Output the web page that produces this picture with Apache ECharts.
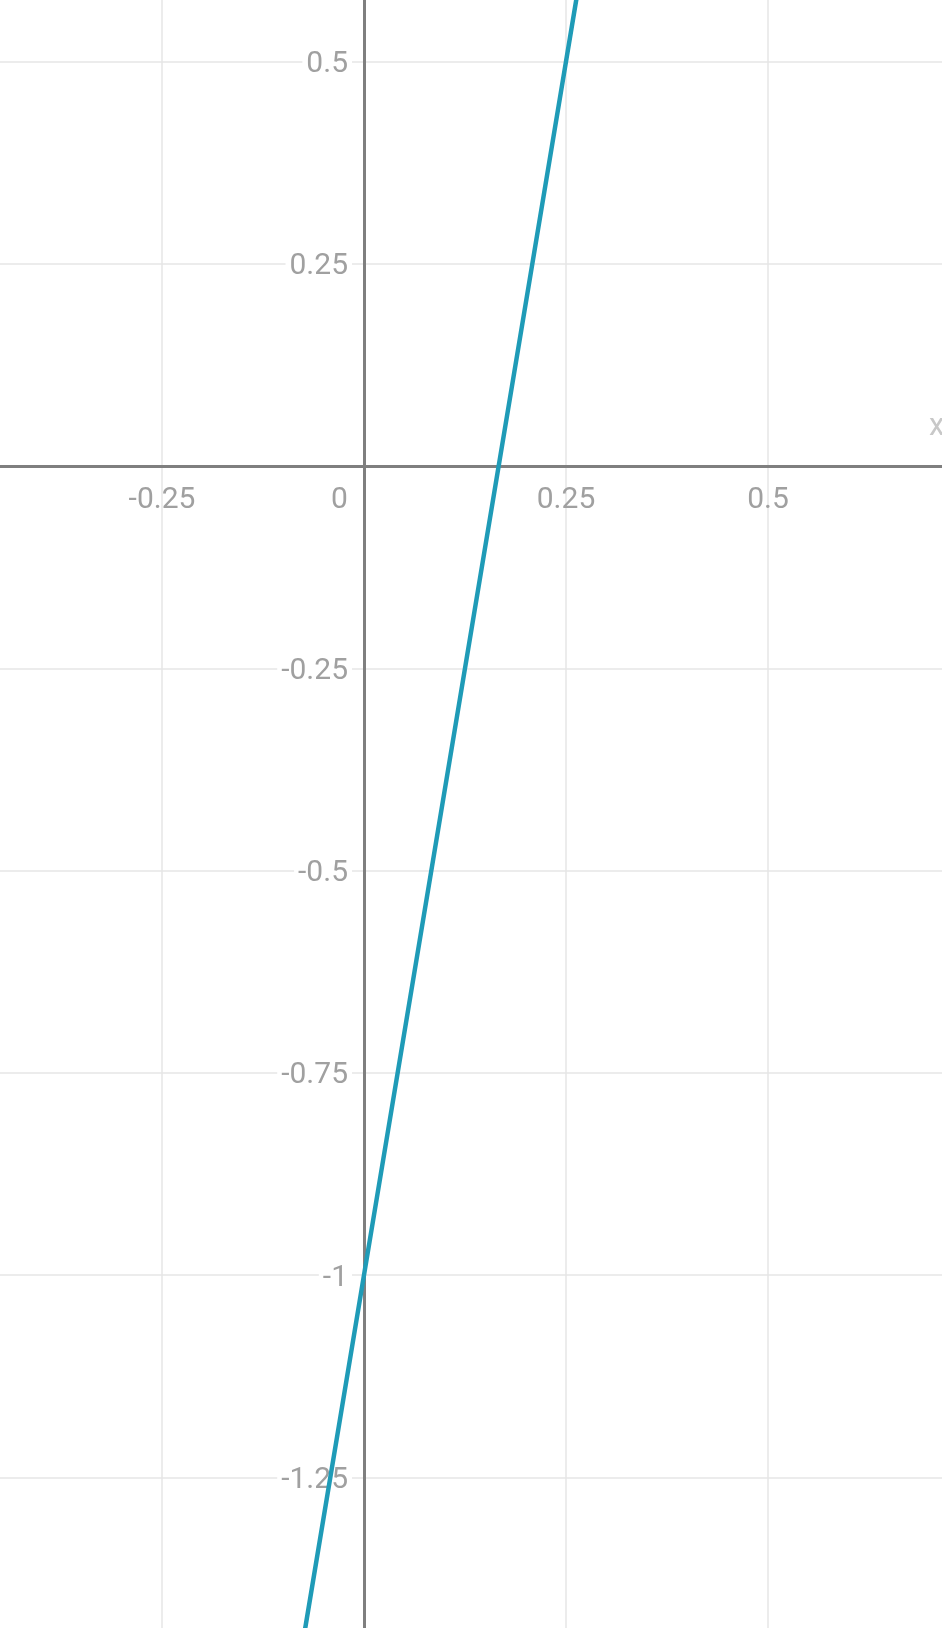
<!DOCTYPE html>
<html>
<head>
<meta charset="utf-8">
<script src="https://cdn.jsdelivr.net/npm/echarts@6/dist/echarts.min.js"></script>
<style>
html,body{margin:0;padding:0;background:#fff;overflow:hidden;}
#chart{width:942px;height:1628px;}
</style>
</head>
<body>
<div id="chart"></div>
<script>
// Line y = 6x - 1
const lineX = [-0.1, 0, 0.25, 0.3];
const lineY = [-1.6, -1, 0.5, 0.8];
const xTicks = [-0.5, -0.25, 0, 0.25, 0.5, 0.75];
const yTicks = [-1.5, -1.25, -1, -0.75, -0.5, -0.25, 0, 0.25, 0.5, 0.75];
const xName = 'x';

const chart = echarts.init(document.getElementById('chart'), null, {renderer: 'canvas'});
const labelColor = '#a0a0a0';
const fontFam = 'Roboto, "Noto Sans", sans-serif';
const fw = 'normal';
const fmt = v => String(Math.round(v * 100) / 100);

const gridTop = -140.75, gridBottom = -51.5, gridLeft = -40, gridRight = -28;
const H = 1628, W = 942;
const zeroY = 466, zeroX = 364;

chart.setOption({
  backgroundColor: '#ffffff',
  animation: false,
  grid: {left: gridLeft, right: gridRight, top: gridTop, bottom: gridBottom, containLabel: false, outerBoundsMode: 'none'},
  xAxis: [{
    type: 'value',
    min: xTicks[0], max: xTicks[xTicks.length - 1], interval: 0.25,
    name: '{n|' + xName + '}', nameLocation: 'end', nameGap: -41,
    nameTextStyle: {
      rich: {n: {color: '#c8c8c8', fontSize: 31, fontFamily: fontFam, fontWeight: fw, padding: [0, 0, 78, 0]}}
    },
    axisLine: {onZero: true, lineStyle: {color: '#7f7f7f', width: 3}},
    axisTick: {show: false},
    axisLabel: {show: false},
    splitLine: {show: true, lineStyle: {color: '#e6e6e6', width: 1.5}}
  }, {
    type: 'value', gridIndex: 0, position: 'bottom',
    offset: -((H - gridBottom) - zeroY),
    min: xTicks[0], max: xTicks[xTicks.length - 1], interval: 0.25,
    axisLine: {show: false, onZero: false},
    axisTick: {show: false},
    splitLine: {show: false},
    axisLabel: {
      color: labelColor, fontSize: 30, fontFamily: fontFam, fontWeight: fw, margin: 19,
      formatter: v => v === 0 ? '{z|0}' : fmt(v),
      rich: {z: {color: labelColor, fontSize: 30, fontFamily: fontFam, fontWeight: fw, padding: [0, 49, 0, 0]}}
    }
  }],
  yAxis: [{
    type: 'value',
    min: yTicks[0], max: yTicks[yTicks.length - 1], interval: 0.25,
    axisLine: {onZero: true, lineStyle: {color: '#7f7f7f', width: 3}},
    axisTick: {show: false},
    axisLabel: {show: false},
    splitLine: {show: true, lineStyle: {color: '#e6e6e6', width: 1.5}}
  }, {
    type: 'value', gridIndex: 0, position: 'left',
    offset: -(zeroX - gridLeft),
    min: yTicks[0], max: yTicks[yTicks.length - 1], interval: 0.25,
    axisLine: {show: false, onZero: false},
    axisTick: {show: false},
    splitLine: {show: false},
    axisLabel: {
      margin: 12,
      formatter: v => v === 0 ? '' : '{b|' + fmt(v) + '}',
      rich: {b: {color: labelColor, fontSize: 30, fontFamily: fontFam, fontWeight: fw,
                 backgroundColor: '#ffffff', padding: [6, 4, 0, 4]}}
    }
  }],
  series: [{
    type: 'line',
    xAxisIndex: 0, yAxisIndex: 0,
    data: lineX.map((x, i) => [x, lineY[i]]),
    showSymbol: false,
    clip: true,
    lineStyle: {color: '#1f9bb7', width: 4.5},
    z: 5
  }]
});
</script>
</body>
</html>
